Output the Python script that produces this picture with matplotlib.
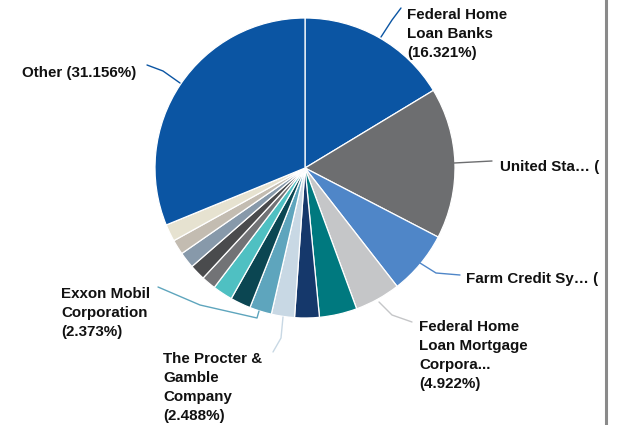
import matplotlib
matplotlib.use("Agg")
import matplotlib.pyplot as plt

# Holdings, clockwise from 12 o'clock (percent of portfolio)
names = ["Federal Home Loan Banks", "United States", "Farm Credit System",
         "Federal Home Loan Mortgage Corporation", "Holding 5", "Holding 6",
         "The Procter & Gamble Company", "Exxon Mobil Corporation",
         "Holding 9", "Holding 10", "Holding 11", "Holding 12", "Holding 13",
         "Holding 14", "Holding 15", "Other"]
weights = [16.321, 16.25, 6.85, 4.922, 4.05, 2.65, 2.488, 2.373,
           2.2, 2.15, 1.55, 1.7, 1.75, 1.6, 1.85, 31.156]
colors = ["#0b55a3", "#6d6e70", "#4f86c8", "#c5c6c8", "#00797f", "#15386b",
          "#c8d8e4", "#5ea5bd", "#0b4652", "#4fc0c2", "#727376", "#4a4b4d",
          "#8799aa", "#c3bcb1", "#e6e2d0", "#0b55a3"]

# label text, anchor (image px) and leader line points (image px)
labels = [
    ("Federal Home\nLoan Banks\n(16.321%)", (407, 8), [(381, 37), (392, 20), (401, 8)], "#0b55a3"),
    ("United Sta\u2026 (", (500, 160), [(454, 163), (492, 161)], "#6d6e70"),
    ("Farm Credit Sy\u2026 (", (466, 272), [(420, 263), (436, 273), (460, 275)], "#4f86c8"),
    ("Federal Home\nLoan Mortgage\nCorpora...\n(4.922%)", (419, 320), [(379, 302), (392, 315), (412, 322)], "#c5c6c8"),
    ("The Procter &\nGamble\nCompany\n(2.488%)", (163, 352), [(283, 317), (281, 338), (273, 352)], "#c8d8e4"),
    ("Exxon Mobil\nCorporation\n(2.373%)", (61, 287), [(158, 287), (200, 305), (257, 318), (259, 311)], "#5ea5bd"),
    ("Other (31.156%)", (22, 66), [(147, 65), (163, 71), (180, 83)], "#0b55a3"),
]

W, H = 622, 425
cx, cy, r = 305, 168, 150

plt.rcParams['font.family'] = ['Liberation Sans', 'DejaVu Sans']
fig = plt.figure(figsize=(W / 100, H / 100), dpi=100)
ax = fig.add_axes([0, 0, 1, 1])

ax.pie(weights, colors=colors, startangle=90, counterclock=False,
       center=(cx, H - cy), radius=r,
       wedgeprops=dict(edgecolor="white", linewidth=0.9))

for text, (tx, ty), pts, lc in labels:
    xs = [p[0] for p in pts]
    ys = [H - p[1] for p in pts]
    ax.plot(xs, ys, color=lc, lw=1.0, solid_capstyle="round")
    ax.text(tx, H - ty, text, ha="left", va="top", fontsize=10.9,
            fontweight="bold", color="#111111", linespacing=1.44)

# right border line
ax.plot([606, 606], [0, H], color="#8a8a8a", lw=2.2)

ax.set_xlim(0, W)
ax.set_ylim(0, H)
ax.set_aspect("equal")
ax.axis("off")

fig.savefig("out.png", dpi=100)
